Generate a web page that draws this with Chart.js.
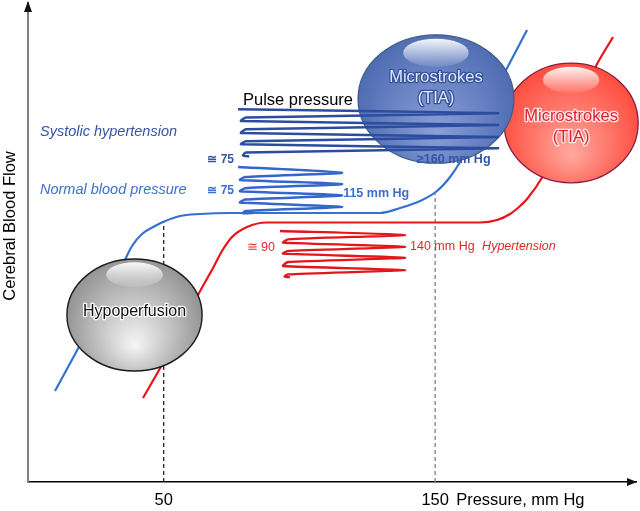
<!DOCTYPE html>
<html><head><meta charset="utf-8">
<script src="https://cdn.jsdelivr.net/npm/chart.js@4.4.1/dist/chart.umd.min.js"></script>
<style>html,body{margin:0;padding:0;background:#fff}#wrap{width:640px;height:511px;position:relative}</style>
</head><body><div id="wrap"><canvas id="c"></canvas></div>
<script>
const FONT = '"Liberation Sans", Arial, Helvetica, sans-serif';

// ---- axis data ----
const xTicks = [50, 150];
const xAxisTitle = 'Pressure, mm Hg';
const yAxisTitle = 'Cerebral Blood Flow';

// ---- autoregulation curves (x = pressure mm Hg, y = relative flow) ----
const blueCurveX = [9.95, 19.16, 28.37, 34.64, 38.32, 42.00, 46.79, 49.74, 56.01, 63.38, 74.43, 129.70, 137.07, 144.44, 150.70, 155.49, 159.17, 166.54, 175.75, 183.86];
const blueCurveY = [19.00, 28.60, 38.41, 45.09, 49.27, 51.77, 53.44, 54.28, 55.53, 55.95, 56.16, 56.16, 57.20, 58.66, 60.75, 63.67, 66.81, 75.16, 85.59, 94.36];

const redCurveX = [42.37, 49.37, 56.01, 62.64, 68.17, 71.48, 75.17, 80.69, 88.06, 96.54, 166.54, 172.81, 177.60, 181.28, 183.86, 189.76, 199.71, 209.65, 215.55];
const redCurveY = [17.54, 24.43, 31.11, 39.04, 44.68, 48.23, 51.15, 53.24, 54.18, 54.18, 54.18, 54.70, 55.95, 57.62, 59.08, 63.88, 75.57, 87.27, 92.90];

// ---- pulse pressure waves (turning points) ----
const systolicWaveX = [77.38, 173.18, 80.30, 78.48, 173.18, 80.30, 78.48, 173.18, 80.30, 78.48, 173.18, 80.30, 79.20, 81.50];
const systolicWaveY = [77.81, 76.97, 76.08, 75.37, 74.53, 73.63, 72.86, 72.03, 71.13, 70.50, 69.67, 68.77, 68.16, 67.95];

const normalWaveX = [77.38, 115.70, 80.00, 78.11, 115.70, 80.00, 78.11, 115.70, 80.00, 78.11, 115.70, 80.00, 79.20, 83.00];
const normalWaveY = [65.76, 64.57, 63.67, 63.05, 62.21, 61.32, 60.71, 59.85, 58.96, 58.35, 57.47, 56.58, 56.10, 56.16];

const hyperWaveX = [92.85, 138.91, 95.80, 93.96, 138.91, 95.80, 93.96, 138.91, 95.80, 93.96, 138.91, 95.80, 94.50, 96.50];
const hyperWaveY = [52.40, 51.57, 50.67, 49.96, 49.12, 48.23, 47.66, 46.83, 45.93, 45.09, 44.26, 43.36, 42.90, 42.75];

// ---- reference (dashed) lines ----
const dash50X = [50, 50];
const dash50Y = [0, 54.3];
const dash150X = [150, 150];
const dash150Y = [0, 60.6];

const pts = (xs, ys) => xs.map((x, i) => ({x, y: ys[i]}));

// ---- annotation layout (data coordinates) ----
const bubbles = [
  {x: 39.24, y: 34.86, rx: 24.9, ry: 11.7, light: '#f6f6f6', dark: '#8e8e8e', edge: '#1b1b1b', lw: 1.4,
   lines: ['Hypoperfusion'], dy: [-3], size: 16, fill: '#111111', stroke: '#ffffff'},
  {x: 200.1, y: 74.95, rx: 24.7, ry: 12.5, light: '#ffa99f', dark: '#ff4a3c', edge: '#8a1a48', lw: 1.3,
   lines: ['Microstrokes', '(TIA)'], dy: [-7, 14], size: 16.5, fill: '#d92232', stroke: 'rgba(255,236,236,0.95)'},
  {x: 150.3, y: 79.96, rx: 28.7, ry: 13.4, light: '#8aa0d8', dark: '#4c69b1', edge: '#3d5e88', lw: 1.3,
   lines: ['Microstrokes', '(TIA)'], dy: [-21.3, -0.7], size: 16.5, fill: '#e2e8f7', stroke: '#34539a'}
];

const notes = [
  {t: 'Pulse pressure', x: 79.2, y: 79.6, align: 'left', font: '16.5px', color: '#000000'},
  {t: 'Systolic hypertension', x: 4.42, y: 73.07, align: 'left', font: 'italic 14.5px', color: '#3454a6'},
  {t: 'Normal blood pressure', x: 4.42, y: 60.96, align: 'left', font: 'italic 14.5px', color: '#3b6fcf'},
  {t: '≅ 75', x: 75.9, y: 67.22, align: 'right', font: 'bold 12px', color: '#3454a6'},
  {t: '≅ 75', x: 75.9, y: 60.75, align: 'right', font: 'bold 12px', color: '#3b6fcf'},
  {t: '115 mm Hg', x: 116.1, y: 60.13, align: 'left', font: 'bold 12.5px', color: '#3b6fcf'},
  {t: '≥160 mm Hg', x: 143.3, y: 67.22, align: 'left', font: 'bold 12.5px', color: '#3454a6'},
  {t: '≅ 90', x: 91.0, y: 48.85, align: 'right', font: '12.5px', color: '#e3262b'},
  {t: '140 mm Hg', x: 140.75, y: 49.06, align: 'left', font: '12.5px', color: '#e3262b'},
  {t: 'Hypertension', x: 167.3, y: 49.06, align: 'left', font: 'italic 12.5px', color: '#e3262b'}
];

function drawBubble(ctx, chart, b) {
  const xs = chart.scales.x, ys = chart.scales.y;
  const cx = xs.getPixelForValue(b.x), cy = ys.getPixelForValue(b.y);
  const rx = xs.getPixelForValue(b.x + b.rx) - cx;
  const ry = cy - ys.getPixelForValue(b.y + b.ry);
  ctx.save();
  ctx.beginPath();
  ctx.ellipse(cx, cy, rx, ry, 0, 0, Math.PI * 2);
  const g = ctx.createRadialGradient(cx, cy + 0.55 * ry, 0, cx, cy + 0.15 * ry, Math.max(rx, ry) * 1.08);
  g.addColorStop(0, b.light);
  g.addColorStop(1, b.dark);
  ctx.fillStyle = g;
  ctx.fill();
  ctx.lineWidth = b.lw;
  ctx.strokeStyle = b.edge;
  ctx.stroke();
  // glossy highlight
  ctx.beginPath();
  ctx.ellipse(cx, cy - 0.72 * ry, 0.42 * rx, 0.22 * ry, 0, 0, Math.PI * 2);
  const hg = ctx.createLinearGradient(0, cy - 0.94 * ry, 0, cy - 0.5 * ry);
  hg.addColorStop(0, 'rgba(255,255,255,0.95)');
  hg.addColorStop(1, 'rgba(255,255,255,0.08)');
  ctx.fillStyle = hg;
  ctx.fill();
  // label
  ctx.font = b.size + 'px ' + FONT;
  ctx.textAlign = 'center';
  ctx.textBaseline = 'middle';
  ctx.lineJoin = 'round';
  b.lines.forEach((s, i) => {
    ctx.lineWidth = 2.6;
    ctx.strokeStyle = b.stroke;
    ctx.strokeText(s, cx, cy + b.dy[i]);
    ctx.fillStyle = b.fill;
    ctx.fillText(s, cx, cy + b.dy[i]);
  });
  ctx.restore();
}

const decor = {
  id: 'decor',
  beforeDatasetDraw(chart, args) {
    if (args.index === 2) {
      bubbles.forEach(b => drawBubble(chart.ctx, chart, b));
    }
  },
  afterDatasetsDraw(chart) {
    const ctx = chart.ctx, xs = chart.scales.x, ys = chart.scales.y;
    ctx.save();
    ctx.textBaseline = 'middle';
    notes.forEach(n => {
      ctx.font = n.font + ' ' + FONT;
      ctx.fillStyle = n.color;
      ctx.textAlign = n.align;
      ctx.fillText(n.t, xs.getPixelForValue(n.x), ys.getPixelForValue(n.y));
    });
    ctx.restore();
  },
  afterDraw(chart) {
    const ctx = chart.ctx, ca = chart.chartArea, xs = chart.scales.x;
    ctx.save();
    // arrows
    ctx.fillStyle = '#111';
    ctx.beginPath();
    ctx.moveTo(ca.left, 1); ctx.lineTo(ca.left - 4, 12); ctx.lineTo(ca.left + 4, 12); ctx.closePath(); ctx.fill();
    ctx.beginPath();
    ctx.moveTo(ca.right + 1, ca.bottom); ctx.lineTo(ca.right - 9, ca.bottom - 4); ctx.lineTo(ca.right - 9, ca.bottom + 4); ctx.closePath(); ctx.fill();
    // x axis title beside last tick
    ctx.fillStyle = '#000';
    ctx.font = '16.5px ' + FONT;
    ctx.textAlign = 'left';
    ctx.textBaseline = 'middle';
    ctx.fillText(xAxisTitle, xs.getPixelForValue(xTicks[xTicks.length - 1]) + 21, 500);
    // y axis title
    ctx.translate(10.5, 226);
    ctx.rotate(-Math.PI / 2);
    ctx.textAlign = 'center';
    ctx.fillText(yAxisTitle, 0, 0);
    ctx.restore();
  }
};

const lineDs = (data, color, width, extra) => Object.assign({
  data, borderColor: color, borderWidth: width, showLine: true,
  pointRadius: 0, pointHoverRadius: 0, fill: false
}, extra || {});

new Chart(document.getElementById('c'), {
  type: 'scatter',
  data: {
    datasets: [
      lineDs(pts(systolicWaveX, systolicWaveY), '#2c4d9f', 2.5, {tension: 0.18}),
      lineDs(pts(normalWaveX, normalWaveY), '#3466cc', 2.5, {tension: 0.18}),
      lineDs(pts(hyperWaveX, hyperWaveY), '#e3161c', 2.3, {tension: 0.18}),
      lineDs(pts(blueCurveX, blueCurveY), '#3472d2', 2.2, {cubicInterpolationMode: 'monotone'}),
      lineDs(pts(redCurveX, redCurveY), '#ea1419', 2.2, {cubicInterpolationMode: 'monotone'}),
      lineDs(pts(dash50X, dash50Y), '#111111', 1.2, {borderDash: [4, 3]}),
      lineDs(pts(dash150X, dash150Y), '#888888', 1.4, {borderDash: [4, 3]})
    ]
  },
  options: {
    responsive: true,
    maintainAspectRatio: false,
    animation: false,
    events: [],
    layout: {padding: {top: 3, right: 4, left: 0, bottom: 0}},
    plugins: {legend: {display: false}, tooltip: {enabled: false}},
    scales: {
      x: {
        type: 'linear', min: 0, max: 224, position: 'bottom',
        grid: {display: false, drawTicks: false},
        border: {display: true, color: '#000', width: 1.6},
        ticks: {autoSkip: false, maxRotation: 0, padding: 9, color: '#000',
                font: {family: FONT, size: 16.5}, callback: v => String(v)},
        afterBuildTicks: s => { s.ticks = xTicks.map(v => ({value: v})); },
        afterFit: s => { s.height = 29; }
      },
      y: {
        type: 'linear', min: 0, max: 100,
        grid: {display: false, drawTicks: false},
        border: {display: true, color: '#808080', width: 2},
        ticks: {display: false},
        afterFit: s => { s.width = 28; }
      }
    }
  },
  plugins: [decor]
});
</script>
</body></html>
